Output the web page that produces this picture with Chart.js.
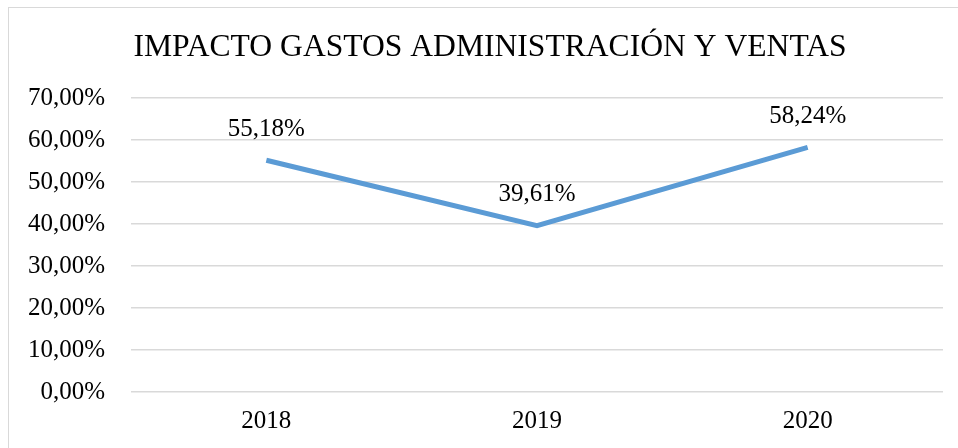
<!DOCTYPE html>
<html>
<head>
<meta charset="utf-8">
<script src="https://cdn.jsdelivr.net/npm/chart.js@4/dist/chart.umd.min.js"></script>
<style>
  html, body { margin: 0; padding: 0; background: #fff; overflow: hidden; }
  #wrap { position: relative; width: 958px; height: 448px; }
  #frame { position: absolute; left: 8px; top: 7px; width: 1000px; height: 600px;
           border: 1.5px solid #d9d9d9; box-sizing: border-box; }
  canvas { position: absolute; left: 0; top: 0; }
</style>
</head>
<body>
<div id="wrap">
  <div id="frame"></div>
  <canvas id="chart" width="958" height="448"></canvas>
</div>
<script>
"use strict";

const years = ["2018", "2019", "2020"];
const impacto = [55.18, 39.61, 58.24];   // % gastos adm. y ventas
const titulo = "IMPACTO GASTOS ADMINISTRACIÓN Y VENTAS";

const SERIF = "'Liberation Serif', 'Times New Roman', serif";

const fmtPct = (v) => v.toFixed(2).replace(".", ",") + "%";

// title + value labels above each point
const pointLabels = {
  id: "pointLabels",
  afterDraw(chart) {
    const ctx = chart.ctx;
    ctx.save();
    ctx.fillStyle = "#000";
    ctx.textAlign = "center";
    ctx.textBaseline = "middle";
    ctx.font = "31.6px " + SERIF;
    ctx.fillText(titulo, 490, 48);
    ctx.font = "25px " + SERIF;
    chart.getDatasetMeta(0).data.forEach((pt, i) => {
      ctx.fillText(fmtPct(impacto[i]), pt.x, pt.y - 31);
    });
    ctx.restore();
  },
};

new Chart(document.getElementById("chart"), {
  type: "line",
  data: {
    labels: years,
    datasets: [{
      data: impacto,
      borderColor: "#5b9bd5",
      borderWidth: 5,
      pointRadius: 0,
      tension: 0,
      fill: false,
    }],
  },
  options: {
    responsive: false,
    animation: false,
    devicePixelRatio: 1,
    layout: { padding: { left: 20, right: 15, top: 98, bottom: 0 } },
    plugins: {
      legend: { display: false },
      tooltip: { enabled: false },
      title: { display: false },
    },
    scales: {
      x: {
        offset: true,
        grid: { display: false, drawTicks: false },
        border: { display: false },
        ticks: { color: "#000", font: { family: SERIF, size: 25 }, padding: 14 },
        afterFit: (s) => { s.height = 56; },
      },
      y: {
        min: 0, max: 70,
        grid: { color: "#d9d9d9", lineWidth: 1.5, drawTicks: false },
        border: { display: false },
        ticks: {
          stepSize: 10,
          color: "#000",
          font: { family: SERIF, size: 25 },
          padding: 26,
          callback: (v) => fmtPct(v),
        },
        afterFit: (s) => { s.width = 111; },
      },
    },
  },
  plugins: [pointLabels],
});
</script>
</body>
</html>
